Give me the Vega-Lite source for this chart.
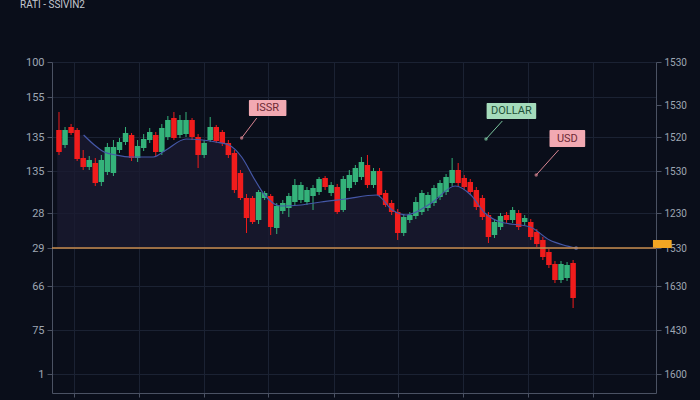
{
  "$schema": "https://vega.github.io/schema/vega-lite/v6.json",
  "width": 604,
  "height": 331,
  "autosize": {"type": "none"},
  "padding": {"left": 52, "top": 62, "right": 44, "bottom": 7},
  "background": "#0a0e1a",
  "title": {"text": "RATI - SSIVIN2", "anchor": "start", "frame": "group", "dx": -32, "offset": 46, "fontSize": 10, "color": "#c4c8d0", "font": "Roboto", "fontWeight": "normal"},
  "config": {
    "view": {"stroke": null},
    "axis": {"domainColor": "#4b5263", "tickColor": "#4b5263", "gridColor": "#1b2233", "labelColor": "#9ea6b3", "labelFont": "Roboto", "labelFontSize": 11, "title": null}
  },
  "datasets": {
    "candles": [
      {"t":0,"o":263,"h":281,"l":238,"c":241},{"t":1,"o":248,"h":266,"l":245,"c":263},{"t":2,"o":266,"h":269,"l":258,"c":260},{"t":3,"o":263,"h":265,"l":232,"c":234},{"t":4,"o":235,"h":243,"l":223,"c":226},
      {"t":5,"o":226,"h":237,"l":223,"c":233},{"t":6,"o":230,"h":235,"l":207,"c":210},{"t":7,"o":211,"h":238,"l":207,"c":233},{"t":8,"o":221,"h":250,"l":218,"c":246},{"t":9,"o":220,"h":253,"l":217,"c":246},
      {"t":10,"o":243,"h":255,"l":240,"c":251},{"t":11,"o":251,"h":266,"l":248,"c":260},{"t":12,"o":258,"h":260,"l":232,"c":235},{"t":13,"o":235,"h":253,"l":231,"c":247},{"t":14,"o":245,"h":259,"l":242,"c":254},
      {"t":15,"o":253,"h":265,"l":250,"c":261},{"t":16,"o":258,"h":261,"l":237,"c":241},{"t":17,"o":241,"h":269,"l":238,"c":265},{"t":18,"o":256,"h":277,"l":253,"c":273},{"t":19,"o":275,"h":281,"l":253,"c":255},
      {"t":20,"o":258,"h":278,"l":255,"c":273},{"t":21,"o":259,"h":281,"l":256,"c":273},{"t":22,"o":273,"h":275,"l":253,"c":256},{"t":23,"o":256,"h":259,"l":225,"c":238},{"t":24,"o":238,"h":253,"l":235,"c":250},
      {"t":25,"o":253,"h":276,"l":251,"c":266},{"t":26,"o":266,"h":268,"l":250,"c":252},{"t":27,"o":261,"h":263,"l":247,"c":250},{"t":28,"o":250,"h":253,"l":235,"c":238},{"t":29,"o":240,"h":243,"l":200,"c":203},
      {"t":30,"o":220,"h":223,"l":193,"c":195},{"t":31,"o":195,"h":199,"l":160,"c":175},{"t":32,"o":195,"h":197,"l":169,"c":171},{"t":33,"o":173,"h":203,"l":169,"c":201},{"t":34,"o":195,"h":202,"l":193,"c":200},
      {"t":35,"o":197,"h":199,"l":158,"c":166},{"t":36,"o":165,"h":190,"l":159,"c":187},{"t":37,"o":182,"h":193,"l":179,"c":190},{"t":38,"o":185,"h":200,"l":176,"c":197},{"t":39,"o":191,"h":214,"l":188,"c":208},
      {"t":40,"o":193,"h":211,"l":190,"c":208},{"t":41,"o":191,"h":206,"l":188,"c":203},{"t":42,"o":197,"h":208,"l":183,"c":205},{"t":43,"o":201,"h":216,"l":198,"c":214},{"t":44,"o":215,"h":217,"l":203,"c":206},
      {"t":45,"o":200,"h":211,"l":197,"c":208},{"t":46,"o":206,"h":209,"l":179,"c":181},{"t":47,"o":183,"h":217,"l":181,"c":214},{"t":48,"o":205,"h":223,"l":202,"c":218},{"t":49,"o":211,"h":228,"l":208,"c":225},
      {"t":50,"o":216,"h":236,"l":213,"c":231},{"t":51,"o":228,"h":238,"l":205,"c":208},{"t":52,"o":208,"h":225,"l":205,"c":222},{"t":53,"o":222,"h":225,"l":196,"c":198},{"t":54,"o":200,"h":203,"l":186,"c":188},
      {"t":55,"o":190,"h":193,"l":178,"c":181},{"t":56,"o":181,"h":184,"l":153,"c":160},{"t":57,"o":160,"h":179,"l":157,"c":176},{"t":58,"o":173,"h":181,"l":170,"c":178},{"t":59,"o":177,"h":196,"l":174,"c":191},
      {"t":60,"o":181,"h":203,"l":178,"c":200},{"t":61,"o":185,"h":201,"l":182,"c":198},{"t":62,"o":190,"h":208,"l":187,"c":205},{"t":63,"o":196,"h":213,"l":193,"c":210},{"t":64,"o":201,"h":219,"l":198,"c":216},
      {"t":65,"o":210,"h":235,"l":207,"c":223},{"t":66,"o":223,"h":230,"l":207,"c":210},{"t":67,"o":215,"h":218,"l":203,"c":206},{"t":68,"o":211,"h":214,"l":198,"c":201},{"t":69,"o":203,"h":206,"l":183,"c":186},
      {"t":70,"o":195,"h":198,"l":173,"c":176},{"t":71,"o":178,"h":181,"l":150,"c":156},{"t":72,"o":158,"h":174,"l":155,"c":171},{"t":73,"o":166,"h":180,"l":163,"c":177},{"t":74,"o":178,"h":181,"l":170,"c":173},
      {"t":75,"o":173,"h":186,"l":170,"c":183},{"t":76,"o":180,"h":183,"l":163,"c":166},{"t":77,"o":171,"h":178,"l":168,"c":175},{"t":78,"o":171,"h":174,"l":153,"c":156},{"t":79,"o":161,"h":164,"l":146,"c":149},
      {"t":80,"o":153,"h":156,"l":133,"c":136},{"t":81,"o":141,"h":144,"l":125,"c":128},{"t":82,"o":129,"h":132,"l":110,"c":113},{"t":83,"o":113,"h":132,"l":110,"c":129},{"t":84,"o":115,"h":131,"l":112,"c":128},
      {"t":85,"o":130,"h":133,"l":85,"c":95}
    ],
    "ma": [
      {"t":-0.3,"v":248},{"t":4.07,"v":258},{"t":5.85,"v":248},{"t":7.48,"v":241},{"t":9.43,"v":238},{"t":11.87,"v":236},{"t":15.6,"v":236},{"t":17.7,"v":243},{"t":21.0,"v":254},{"t":23.7,"v":253},
      {"t":25.9,"v":251},{"t":28.1,"v":248},{"t":30.2,"v":236},{"t":32.4,"v":213},{"t":34.0,"v":198},{"t":36.7,"v":187},{"t":40.0,"v":188},{"t":43.3,"v":191},{"t":47.3,"v":194},{"t":52.5,"v":198},
      {"t":55.1,"v":183},{"t":57.4,"v":178},{"t":61.6,"v":190},{"t":65.5,"v":207},{"t":68.1,"v":198},{"t":70.4,"v":180},{"t":73.0,"v":171},{"t":77.9,"v":166},{"t":81.1,"v":153},{"t":83.4,"v":148},{"t":85.5,"v":145}
    ],
    "notes": [
      {"label":"ISSR","kind":"pink","x1":31.4,"x2":37.6,"y1":277,"y2":293,"tx":34.5,"ty":285,"ax1":32.7,"ay1":275,"ax2":30.2,"ay2":255},
      {"label":"DOLLAR","kind":"green","x1":70.7,"x2":78.9,"y1":274,"y2":290,"tx":74.8,"ty":282,"ax1":73.3,"ay1":272,"ax2":70.6,"ay2":254},
      {"label":"USD","kind":"pink","x1":81.1,"x2":87.0,"y1":246,"y2":263,"tx":84.05,"ty":254.5,"ax1":82.6,"ay1":243,"ax2":78.9,"ay2":218}
    ],
    "level": [{"level":145}]
  },
  "resolve": {"scale": {"y": "independent"}, "axis": {"y": "independent"}},
  "layer": [
    {
      "layer": [
        {
          "data": {"name": "ma"},
          "mark": {"type": "area", "color": "#1b1b31", "opacity": 0.75, "interpolate": "monotone"},
          "encoding": {
            "x": {"field": "t", "type": "quantitative", "scale": {"domain": [-0.33, 97.88], "nice": false, "zero": false},
                  "axis": {"orient": "bottom", "labels": false, "grid": true, "tickSize": 4, "values": [2.4, 13.2, 23.9, 34.6, 45.4, 56.1, 66.8, 77.6, 88.3], "title": null}},
            "y": {"field": "v", "type": "quantitative", "scale": {"domain": [0, 331], "nice": false, "zero": false},
                  "axis": {"orient": "left", "grid": true, "tickSize": 5, "labelPadding": 3, "title": null,
                           "values": [331, 296, 256, 222, 180, 145, 107, 63, 19],
                           "labelExpr": "datum.value==331?'100':datum.value==296?'155':datum.value==256?'135':datum.value==222?'135':datum.value==180?'28':datum.value==145?'29':datum.value==107?'66':datum.value==63?'75':'1'"}},
            "y2": {"datum": 145}
          }
        },
        {
          "data": {"name": "candles"},
          "transform": [{"calculate": "datum.c >= datum.o ? 'up' : 'down'", "as": "dir"}],
          "layer": [
            {
              "mark": {"type": "rule", "strokeWidth": 1},
              "encoding": {
                "x": {"field": "t", "type": "quantitative", "title": null},
                "y": {"field": "l", "type": "quantitative", "title": null},
                "y2": {"field": "h"},
                "color": {"field": "dir", "type": "nominal", "scale": {"domain": ["up", "down"], "range": ["#34b27a", "#f01c1c"]}, "legend": null}
              }
            },
            {
              "mark": {"type": "bar", "width": 5.5},
              "encoding": {
                "x": {"field": "t", "type": "quantitative", "title": null},
                "y": {"field": "o", "type": "quantitative", "title": null},
                "y2": {"field": "c"},
                "color": {"field": "dir", "type": "nominal", "scale": {"domain": ["up", "down"], "range": ["#34b27a", "#f01c1c"]}, "legend": null}
              }
            }
          ]
        },
        {
          "data": {"name": "ma"},
          "transform": [{"filter": "datum.t >= 4"}],
          "mark": {"type": "line", "color": "#4558a8", "strokeWidth": 1.2, "interpolate": "monotone"},
          "encoding": {
            "x": {"field": "t", "type": "quantitative", "title": null},
            "y": {"field": "v", "type": "quantitative", "title": null}
          }
        },
        {
          "data": {"name": "ma"},
          "transform": [{"filter": "datum.t > 85"}],
          "mark": {"type": "point", "filled": true, "color": "#6f86d6", "size": 14},
          "encoding": {
            "x": {"field": "t", "type": "quantitative", "title": null},
            "y": {"field": "v", "type": "quantitative", "title": null}
          }
        },
        {
          "data": {"name": "notes"},
          "layer": [
            {
              "mark": {"type": "rule", "strokeWidth": 1},
              "encoding": {
                "x": {"field": "ax1", "type": "quantitative", "title": null},
                "x2": {"field": "ax2"},
                "y": {"field": "ay1", "type": "quantitative", "title": null},
                "y2": {"field": "ay2"},
                "color": {"condition": {"test": "datum.kind == 'green'", "value": "#7cc6a0"}, "value": "#d98592"}
              }
            },
            {
              "mark": {"type": "point", "filled": true, "size": 12},
              "encoding": {
                "x": {"field": "ax2", "type": "quantitative", "title": null},
                "y": {"field": "ay2", "type": "quantitative", "title": null},
                "color": {"condition": {"test": "datum.kind == 'green'", "value": "#7cc6a0"}, "value": "#d98592"}
              }
            },
            {
              "mark": {"type": "rect", "cornerRadius": 1},
              "encoding": {
                "x": {"field": "x1", "type": "quantitative", "title": null},
                "x2": {"field": "x2"},
                "y": {"field": "y1", "type": "quantitative", "title": null},
                "y2": {"field": "y2"},
                "color": {"condition": {"test": "datum.kind == 'green'", "value": "#a5dbbb"}, "value": "#f2a9b2"}
              }
            },
            {
              "mark": {"type": "text", "font": "Roboto", "fontSize": 11, "align": "center", "baseline": "middle"},
              "encoding": {
                "x": {"field": "tx", "type": "quantitative", "title": null},
                "y": {"field": "ty", "type": "quantitative", "title": null},
                "text": {"field": "label"},
                "color": {"condition": {"test": "datum.kind == 'green'", "value": "#1f5238"}, "value": "#6e2a36"}
              }
            }
          ]
        },
        {
          "data": {"name": "level"},
          "mark": {"type": "rect", "color": "#f3a623"},
          "encoding": {
            "x": {"datum": 98.2, "type": "quantitative"},
            "x2": {"datum": 101.3},
            "y": {"datum": 145, "type": "quantitative"},
            "y2": {"datum": 153}
          }
        }
      ]
    },
    {
      "data": {"name": "level"},
      "mark": {"type": "rule", "color": "#c98c4e", "strokeWidth": 1.5},
      "encoding": {
        "y": {"field": "level", "type": "quantitative", "scale": {"domain": [0, 331], "nice": false, "zero": false},
              "axis": {"orient": "right", "grid": false, "tickSize": 5, "labelPadding": 3, "labelFontSize": 10, "title": null,
                       "values": [331, 288, 256, 222, 180, 145, 107, 63, 19],
                       "labelExpr": "datum.value==331?'1530':datum.value==288?'1530':datum.value==256?'1520':datum.value==222?'1530':datum.value==180?'1230':datum.value==145?'1530':datum.value==107?'1630':datum.value==63?'1430':'1600'"}}
      }
    }
  ]
}
